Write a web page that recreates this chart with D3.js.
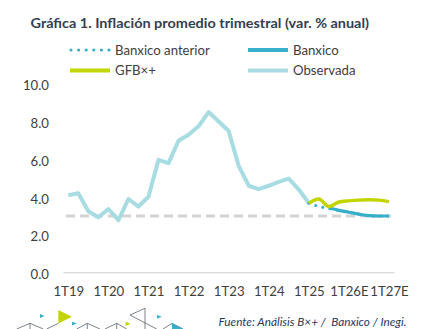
<!DOCTYPE html>
<html><head><meta charset="utf-8">
<script src="https://cdn.jsdelivr.net/npm/d3@7"></script>
<style>html,body{margin:0;padding:0;background:#fff;}svg{display:block;}</style>
</head><body>
<svg id="c" width="429" height="329"></svg>
<script>
// ---- data ----
const xTickLabels = ["1T19","1T20","1T21","1T22","1T23","1T24","1T25","1T26E","1T27E"];
const yTicks = [0,2,4,6,8,10];
// quarterly observed inflation from 1T19 to 1T25
const observada = [4.1,4.2,3.25,2.93,3.37,2.78,3.9,3.5,4.02,5.97,5.8,6.98,7.3,7.75,8.5,8.0,7.5,5.65,4.6,4.42,4.6,4.8,4.98,4.4,3.68];
const startForecast = 24; // index of 1T25
const gfb = [3.68,3.9,3.5,3.74,3.8,3.84,3.86,3.84,3.76];
const banxicoAnterior = [3.68,3.5,3.4,3.3,3.2,3.1,3.0,3.0,3.0];
const banxicoStart = 26; // 3T25
const banxico = [3.42,3.3,3.2,3.1,3.02,3.0,3.0];
const meta = 3.0;
const legendItems = ["Banxico anterior","Banxico","GFB×+","Observada"];

// ---- layout ----
const svg = d3.select("#c");
const font = "Lato, 'Open Sans', sans-serif";
const x = d3.scaleLinear().domain([0,32]).range([68.3,389]);
const y = d3.scaleLinear().domain([0,10]).range([272.7,83.7]);

svg.append("text").attr("x",30.5).attr("y",28.3)
  .attr("font-family",font).attr("font-weight","bold").attr("font-size",13.5)
  .attr("fill","#33404f").attr("textLength",338.5).attr("lengthAdjust","spacingAndGlyphs")
  .text("Gráfica 1. Inflación promedio trimestral (var. % anual)");

// y axis labels
const yAx = svg.append("g").attr("transform","translate(49,0)")
  .call(d3.axisLeft(y).tickValues(yTicks).tickFormat(d3.format(".1f")).tickSize(0).tickPadding(0));
yAx.select(".domain").remove();
yAx.selectAll("text").attr("font-family",font).attr("font-size",13.2).attr("fill","#404040").attr("dy","0.45em");

// baseline
svg.append("line").attr("x1",63.3).attr("x2",394.3).attr("y1",y(0)).attr("y2",y(0))
  .attr("stroke","#d9d9d9").attr("stroke-width",1.3);

// x axis labels
const xAx = svg.append("g").attr("transform","translate(0,283)")
  .call(d3.axisBottom(x).tickValues(d3.range(0,33,4)).tickFormat((d,i)=>xTickLabels[i]).tickSize(0).tickPadding(0));
xAx.select(".domain").remove();
xAx.selectAll("text").attr("font-family",font).attr("font-size",13.2).attr("fill","#404040").attr("dy","0.95em");

// target dashed
svg.append("line").attr("x1",66).attr("x2",391).attr("y1",y(meta)).attr("y2",y(meta))
  .attr("stroke","#d3d3d3").attr("stroke-width",3).attr("stroke-dasharray","9,5");

const line = d3.line().x(d=>x(d[0])).y(d=>y(d[1]));
const colObs = "#a7dce3", colBx = "#38afca", colGfb = "#c3d500";

svg.append("path").datum(observada.map((v,i)=>[i,v])).attr("d",line)
  .attr("fill","none").attr("stroke",colObs).attr("stroke-width",4).attr("stroke-linejoin","round");
svg.append("path").datum(banxicoAnterior.map((v,i)=>[startForecast+i,v])).attr("d",line)
  .attr("fill","none").attr("stroke",colBx).attr("stroke-width",3.2).attr("stroke-linecap","round").attr("stroke-dasharray","0,7.3");
svg.append("path").datum(banxico.map((v,i)=>[banxicoStart+i,v])).attr("d",d3.line().x(d=>x(d[0])).y(d=>y(d[1])).curve(d3.curveMonotoneX))
  .attr("fill","none").attr("stroke",colBx).attr("stroke-width",3.2);
svg.append("path").datum(gfb.map((v,i)=>[startForecast+i,v])).attr("d",d3.line().x(d=>x(d[0])).y(d=>y(d[1])).curve(d3.curveMonotoneX))
  .attr("fill","none").attr("stroke",colGfb).attr("stroke-width",3.5).attr("stroke-linejoin","round");

// legend
const leg = [
  {t:legendItems[0], x:70, y:50, c:colBx, dash:"0,7.6", w:3.2, cap:"round"},
  {t:legendItems[1], x:248, y:50, c:colBx, dash:null, w:4, cap:"butt"},
  {t:legendItems[2], x:70, y:70.5, c:colGfb, dash:null, w:4, cap:"butt"},
  {t:legendItems[3], x:248, y:70.5, c:colObs, dash:null, w:4, cap:"butt"}
];
const lg = svg.append("g").selectAll("g").data(leg).join("g");
lg.append("line").attr("x1",d=>d.x+(d.dash?1:0)).attr("x2",d=>d.x+40).attr("y1",d=>d.y).attr("y2",d=>d.y)
  .attr("stroke",d=>d.c).attr("stroke-width",d=>d.w).attr("stroke-linecap",d=>d.cap)
  .attr("stroke-dasharray",d=>d.dash);
lg.append("text").attr("x",d=>d.x+45).attr("y",d=>d.y).attr("dy","0.35em")
  .attr("font-family",font).attr("font-size",13.2).attr("fill","#404040").text(d=>d.t);

// footer
svg.append("text").attr("x",218.5).attr("y",326).attr("font-family",font).attr("font-style","italic")
  .attr("font-size",11.5).attr("fill","#1f3a60").attr("textLength",188).attr("lengthAdjust","spacingAndGlyphs")
  .text("Fuente: Análisis B×+ /\u00a0 Banxico / Inegi.");

// decorative logo triangles
const deco = svg.append("g");
const gray = "#5a6470";
[[[16.7,329],[30,323.3],[43.3,329]],[[46.7,329],[58.3,323.3]],[[76.7,329],[87.3,323.3],[100,329]],
 [[105,329],[116.7,323.3],[126.7,329]],[[145,308.3],[130,315],[156.7,329]],[[145,308.3],[145,329]],
 [[163,329],[172,323.3],[183,329]],[[30,323.3],[30,329]],[[87.3,323.3],[87.3,329]],[[116.7,323.3],[116.7,329]]]
 .forEach(p=>deco.append("path").attr("d",d3.line()(p)).attr("fill","none").attr("stroke",gray).attr("stroke-width",0.8));
[[[[58.3,310],[58.3,323.5],[72,316.7]],colGfb],[[[40,314],[40,318],[44.5,316]],colBx],
 [[[72,321.7],[72,325.5],[77,323.6]],colBx],[[[125.5,321.7],[125.5,326],[130.5,323.8]],colGfb],
 [[[157,315],[157,318.5],[162,316.7]],colBx],[[[172,323.3],[183.5,329],[172,329]],colBx]]
 .forEach(([p,c])=>deco.append("path").attr("d",d3.line()(p)+"Z").attr("fill",c));
</script>
</body></html>
